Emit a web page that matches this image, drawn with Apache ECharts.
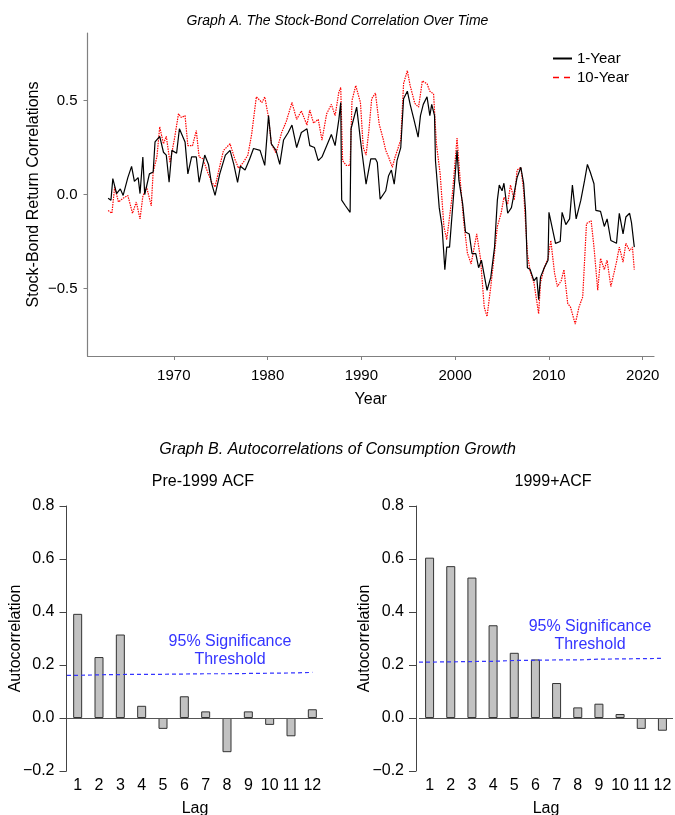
<!DOCTYPE html>
<html>
<head>
    <meta charset="utf-8">
    <title>Stock-Bond Correlation and Consumption ACF</title>
    <script src="https://cdn.jsdelivr.net/npm/echarts@6/dist/echarts.min.js"></script>
</head>
<body style="margin:0;background:#fff;">
<div id="main" style="width:675px;height:815px;"></div>
<script type="text/javascript">

    /* Graph A: rolling stock-bond correlations */
    var oneYearDates = [1963.0, 1963.3, 1963.5, 1963.9, 1964.3, 1964.6, 1965.1, 1965.5, 1965.8, 1966.2,
        1966.4, 1966.7, 1966.9, 1967.4, 1967.8, 1968.0, 1968.5, 1968.9, 1969.2, 1969.5,
        1969.8, 1970.3, 1970.6, 1971.2, 1971.5, 1971.9, 1972.4, 1972.7, 1973.3, 1973.7,
        1974.0, 1974.4, 1974.9, 1975.5, 1976.0, 1976.4, 1976.8, 1977.1, 1977.6, 1978.1,
        1978.5, 1979.2, 1979.7, 1980.1, 1980.4, 1980.9, 1981.3, 1981.7, 1982.2, 1982.6,
        1983.1, 1983.6, 1984.2, 1984.5, 1985.0, 1985.4, 1985.8, 1986.3, 1986.8, 1987.2,
        1987.6, 1987.8, 1987.9, 1988.3, 1988.8, 1988.9, 1989.5, 1989.9, 1990.5, 1991.0,
        1991.5, 1991.7, 1992.0, 1992.6, 1992.9, 1993.2, 1993.5, 1993.8, 1994.2, 1994.5,
        1994.9, 1995.2, 1995.6, 1996.05, 1996.3, 1996.6, 1997.0, 1997.3, 1997.5, 1997.8,
        1997.9, 1998.3, 1998.6, 1998.9, 1999.1, 1999.4, 1999.9, 2000.2, 2000.4, 2000.8,
        2001.1, 2001.5, 2001.8, 2002.2, 2002.5, 2002.8, 2003.4, 2003.8, 2004.2, 2004.5,
        2004.7, 2005.0, 2005.2, 2005.6, 2006.0, 2006.6, 2007.0, 2007.3, 2007.5, 2007.7,
        2008.0, 2008.4, 2008.7, 2008.9, 2009.1, 2009.5, 2009.9, 2010.0, 2010.4, 2010.7,
        2011.2, 2011.4, 2011.8, 2012.2, 2012.5, 2012.9, 2013.4, 2013.8, 2014.1, 2014.4,
        2014.8, 2015.0, 2015.5, 2015.9, 2016.2, 2016.6, 2017.2, 2017.5, 2017.9, 2018.2,
        2018.6, 2018.8, 2019.1];
    var oneYearCorr = [-0.02, -0.03, 0.085, 0.005, 0.03, -0.005, 0.09, 0.15, 0.07, 0.09,
        0.005, 0.20, 0.0, 0.11, 0.12, 0.28, 0.31, 0.225, 0.21, 0.065,
        0.235, 0.22, 0.35, 0.28, 0.11, 0.20, 0.20, 0.065, 0.21, 0.16,
        0.065, -0.005, 0.11, 0.21, 0.235, 0.16, 0.065, 0.15, 0.13, 0.19,
        0.245, 0.235, 0.155, 0.42, 0.27, 0.235, 0.16, 0.29, 0.33, 0.37,
        0.25, 0.33, 0.35, 0.26, 0.25, 0.18, 0.20, 0.26, 0.32, 0.26,
        0.40, 0.49, -0.03, -0.06, -0.095, 0.35, 0.465, 0.29, 0.055, 0.19,
        0.19, 0.17, -0.025, 0.02, 0.10, 0.13, 0.055, 0.18, 0.25, 0.51,
        0.55, 0.48, 0.40, 0.305, 0.42, 0.48, 0.52, 0.42, 0.48, 0.42,
        0.18, -0.07, -0.17, -0.40, -0.28, -0.28, 0.04, 0.235, 0.075, -0.05,
        -0.20, -0.21, -0.315, -0.315, -0.39, -0.35, -0.51, -0.44, -0.28, -0.03,
        0.05, 0.02, 0.06, -0.10, -0.07, 0.09, 0.145, 0.06, -0.085, -0.39,
        -0.40, -0.46, -0.44, -0.56, -0.44, -0.39, -0.35, -0.095, -0.19, -0.26,
        -0.25, -0.095, -0.16, -0.13, 0.05, -0.13, -0.03, 0.075, 0.16, 0.12,
        0.057, -0.085, -0.09, -0.17, -0.13, -0.245, -0.26, -0.10, -0.21, -0.12,
        -0.10, -0.15, -0.28];

    var tenYearDates = [1963.0, 1963.4, 1963.7, 1964.1, 1964.6, 1965.1, 1965.6, 1966.0, 1966.4, 1966.7,
        1967.1, 1967.6, 1967.8, 1968.2, 1968.5, 1968.9, 1969.2, 1969.6, 1970.1, 1970.5,
        1970.8, 1971.2, 1971.5, 1972.0, 1972.4, 1972.7, 1973.1, 1973.6, 1974.0, 1974.4,
        1974.9, 1975.3, 1976.0, 1976.5, 1976.9, 1977.4, 1977.9, 1978.3, 1978.8, 1979.4,
        1979.7, 1980.1, 1980.4, 1980.9, 1981.5, 1982.0, 1982.6, 1983.1, 1983.6, 1984.2,
        1984.5, 1984.9, 1985.4, 1985.8, 1986.3, 1986.8, 1987.2, 1987.6, 1987.8, 1988.0,
        1988.4, 1988.8, 1989.0, 1989.4, 1989.9, 1990.2, 1990.5, 1990.8, 1991.1, 1991.5,
        1991.9, 1992.3, 1992.6, 1992.9, 1993.3, 1993.6, 1994.2, 1994.5, 1994.9, 1995.2,
        1995.7, 1996.1, 1996.5, 1997.0, 1997.3, 1997.7, 1998.0, 1998.4, 1998.8, 1999.1,
        1999.7, 2000.2, 2000.5, 2000.9, 2001.3, 2001.7, 2002.3, 2002.7, 2003.1, 2003.4,
        2003.8, 2004.2, 2004.5, 2004.9, 2005.2, 2005.6, 2005.9, 2006.3, 2006.6, 2007.0,
        2007.3, 2007.7, 2008.0, 2008.4, 2008.9, 2009.1, 2009.5, 2009.9, 2010.2, 2010.6,
        2010.9, 2011.3, 2011.6, 2012.0, 2012.3, 2012.8, 2013.2, 2013.6, 2014.0, 2014.5,
        2014.8, 2015.2, 2015.5, 2015.9, 2016.2, 2016.6, 2017.2, 2017.5, 2017.9, 2018.2,
        2018.6, 2018.9, 2019.1];
    var tenYearCorr = [-0.085, -0.10, 0.04, -0.04, -0.02, -0.005, -0.10, -0.04, -0.13, -0.01,
        0.04, -0.06, 0.12, 0.20, 0.36, 0.27, 0.31, 0.17, 0.305, 0.43,
        0.41, 0.42, 0.26, 0.26, 0.34, 0.20, 0.19, 0.12, 0.07, 0.04,
        0.15, 0.235, 0.27, 0.19, 0.14, 0.17, 0.21, 0.32, 0.52, 0.49,
        0.52, 0.41, 0.27, 0.22, 0.33, 0.39, 0.49, 0.40, 0.445, 0.37,
        0.45, 0.38, 0.40, 0.29, 0.43, 0.48, 0.42, 0.545, 0.57, 0.18,
        0.155, 0.155, 0.50, 0.58, 0.49, 0.25, 0.21, 0.34, 0.51, 0.54,
        0.375, 0.30, 0.235, 0.20, 0.145, 0.20, 0.29, 0.59, 0.66, 0.58,
        0.485, 0.465, 0.605, 0.59, 0.55, 0.535, 0.27, 0.11, -0.17, -0.24,
        0.0, 0.30, 0.10, -0.14, -0.31, -0.37, -0.21, -0.34, -0.60, -0.65,
        -0.49, -0.31, -0.17, -0.10, -0.015, -0.05, 0.05, -0.03, 0.13, 0.145,
        0.02, -0.315, -0.41, -0.47, -0.635, -0.47, -0.39, -0.34, -0.245, -0.42,
        -0.49, -0.46, -0.40, -0.58, -0.60, -0.69, -0.60, -0.545, -0.155, -0.14,
        -0.28, -0.51, -0.34, -0.40, -0.35, -0.49, -0.36, -0.28, -0.36, -0.26,
        -0.30, -0.28, -0.40];

    var yearTicks = [1970, 1980, 1990, 2000, 2010, 2020];
    var corrTicks = [-0.5, 0, 0.5];

    /* Graph B: autocorrelations of consumption growth */
    var lags = ['1', '2', '3', '4', '5', '6', '7', '8', '9', '10', '11', '12'];
    var acfPre1999 = [0.393, 0.230, 0.315, 0.046, -0.041, 0.082, 0.025, -0.129, 0.025, -0.026, -0.069, 0.033];
    var acfPost1999 = [0.605, 0.573, 0.530, 0.350, 0.246, 0.221, 0.132, 0.040, 0.054, 0.015, -0.041, -0.048];

    var thresholdLags = [0.5, 1, 2, 3, 4, 5, 6, 7, 8, 9, 10, 11, 12];
    var thresholdPre1999 = [0.161, 0.161, 0.163, 0.164, 0.165, 0.165, 0.166, 0.167, 0.167, 0.168, 0.169, 0.170, 0.172];
    var thresholdPost1999 = [0.211, 0.211, 0.212, 0.213, 0.214, 0.217, 0.218, 0.219, 0.219, 0.222, 0.223, 0.224, 0.225];

    function zip(xs, ys) {
        return xs.map(function (x, i) { return [x, ys[i]]; });
    }
    function fmt(v) {
        return v.toFixed(1).replace('-', '\u2212');
    }

    var FONT = 'Liberation Sans, Arial, Helvetica, sans-serif';
    var BLUE = '#3434ff';

    var myChart = echarts.init(document.getElementById('main'));

    function acfY(gridIndex, offset) {
        return {
            gridIndex: gridIndex, type: 'value', min: -0.2, max: 0.8, interval: 0.2, offset: offset,
            name: 'Autocorrelation', nameLocation: 'middle', nameGap: 43, nameMoveOverlap: false,
            nameTextStyle: {fontSize: 16, color: '#000', fontFamily: FONT},
            axisLine: {show: true, onZero: false, lineStyle: {color: '#444', width: 1}},
            axisTick: {show: true, length: 7, lineStyle: {color: '#444'}},
            axisLabel: {fontSize: 16, color: '#000', fontFamily: FONT, margin: 12, formatter: fmt},
            splitLine: {show: false}
        };
    }
    function lagX(gridIndex) {
        return {
            gridIndex: gridIndex, type: 'category', data: lags,
            name: 'Lag', nameLocation: 'middle', nameGap: 30, nameMoveOverlap: false,
            nameTextStyle: {fontSize: 16, color: '#000', fontFamily: FONT},
            axisLine: {show: false}, axisTick: {show: false},
            axisLabel: {fontSize: 16, color: '#000', fontFamily: FONT, margin: 7, interval: 0}
        };
    }
    function hiddenX(gridIndex) {
        return {gridIndex: gridIndex, type: 'value', min: 0.5, max: 12.5, show: false};
    }
    function acfBars(name, data, xi, yi) {
        return {
            name: name, type: 'bar', xAxisIndex: xi, yAxisIndex: yi, data: data,
            barWidth: 9,
            itemStyle: {color: '#c2c2c2', borderColor: '#333', borderWidth: 1},
            markLine: {
                silent: true, symbol: 'none', label: {show: false},
                lineStyle: {color: '#555', width: 1, type: 'solid'},
                data: [{yAxis: 0}]
            }
        };
    }
    function thresholdLine(data, xi, yi, labelAt) {
        return {
            type: 'line', xAxisIndex: xi, yAxisIndex: yi, data: zip(thresholdLags, data),
            symbol: 'none', silent: true,
            lineStyle: {color: BLUE, width: 1.2, type: [4, 3]},
            markPoint: {
                symbol: 'circle', symbolSize: 1, itemStyle: {color: 'rgba(0,0,0,0)'},
                label: {
                    show: true, position: 'inside', color: BLUE, fontSize: 16, lineHeight: 18,
                    fontFamily: FONT, formatter: '95% Significance\nThreshold'
                },
                data: [{coord: labelAt}]
            }
        };
    }

    myChart.setOption({
        animation: false,
        textStyle: {fontFamily: FONT},
        title: [
            {
                text: 'Graph A. The Stock-Bond Correlation Over Time', left: 'center', top: 9,
                textStyle: {fontSize: 14, fontStyle: 'italic', fontWeight: 'normal', color: '#000', fontFamily: FONT}
            },
            {
                text: 'Graph B. Autocorrelations of Consumption Growth', left: 'center', top: 437,
                textStyle: {fontSize: 16, fontStyle: 'italic', fontWeight: 'normal', color: '#000', fontFamily: FONT}
            },
            {
                text: 'Pre-1999 ACF', left: 198, textAlign: 'center', top: 469,
                textStyle: {fontSize: 16, fontWeight: 'normal', color: '#000', fontFamily: FONT}
            },
            {
                text: '1999+ACF', left: 548, textAlign: 'center', top: 469,
                textStyle: {fontSize: 16, fontWeight: 'normal', color: '#000', fontFamily: FONT}
            }
        ],
        legend: {
            show: true, orient: 'vertical', left: 547, top: 46, itemGap: 4,
            itemWidth: 19, itemHeight: 14,
            itemStyle: {color: 'rgba(0,0,0,0)', borderColor: 'rgba(0,0,0,0)', borderWidth: 0},
            textStyle: {fontSize: 15, color: '#000', fontFamily: FONT},
            data: [
                {name: '1-Year'},
                {name: '10-Year', lineStyle: {type: [6, 5], width: 1.5}}
            ]
        },
        grid: [
            {left: 87.5, top: 33, width: 566.5, height: 323, outerBoundsMode: 'none'},
            {left: 67, top: 506, width: 256, height: 265, outerBoundsMode: 'none'},
            {left: 419, top: 506, width: 254, height: 265, outerBoundsMode: 'none'}
        ],
        xAxis: [
            {
                gridIndex: 0, type: 'value', min: 1960.8, max: 2021.2,
                name: 'Year', nameLocation: 'middle', nameGap: 36, nameMoveOverlap: false,
                nameTextStyle: {fontSize: 16, color: '#000', fontFamily: FONT},
                axisLine: {show: true, onZero: false, lineStyle: {color: '#808080', width: 1.2}},
                axisTick: {show: true, length: 4, lineStyle: {color: '#808080'}, customValues: yearTicks},
                axisLabel: {
                    fontSize: 15, color: '#000', fontFamily: FONT, margin: 12, customValues: yearTicks,
                    formatter: function (v) { return String(v); }
                },
                splitLine: {show: false}
            },
            lagX(1), hiddenX(1),
            lagX(2), hiddenX(2)
        ],
        yAxis: [
            {
                gridIndex: 0, type: 'value', min: -0.86, max: 0.86,
                name: 'Stock-Bond Return Correlations', nameLocation: 'middle', nameGap: 46, nameMoveOverlap: false,
                nameTextStyle: {fontSize: 16, color: '#000', fontFamily: FONT},
                axisLine: {show: true, onZero: false, lineStyle: {color: '#808080', width: 1.2}},
                axisTick: {show: true, length: 4, lineStyle: {color: '#808080'}, customValues: corrTicks},
                axisLabel: {fontSize: 15, color: '#000', fontFamily: FONT, margin: 10, customValues: corrTicks, formatter: fmt},
                splitLine: {show: false}
            },
            acfY(1, 0.5),
            acfY(2, 3)
        ],
        series: [
            {
                name: '10-Year', type: 'line', xAxisIndex: 0, yAxisIndex: 0,
                data: zip(tenYearDates, tenYearCorr), symbol: 'none', showSymbol: false,
                lineStyle: {color: '#ff0000', width: 1.2, type: [1.5, 1]},
                itemStyle: {color: '#ff0000'}
            },
            {
                name: '1-Year', type: 'line', xAxisIndex: 0, yAxisIndex: 0,
                data: zip(oneYearDates, oneYearCorr), symbol: 'none', showSymbol: false,
                lineStyle: {color: '#000', width: 1.2},
                itemStyle: {color: '#000'}
            },
            acfBars('Pre-1999 ACF', acfPre1999, 1, 1),
            thresholdLine(thresholdPre1999, 2, 1, [8.14, 0.254]),
            acfBars('1999+ACF', acfPost1999, 3, 2),
            thresholdLine(thresholdPost1999, 4, 2, [8.58, 0.31])
        ]
    });

</script>
</body>
</html>
